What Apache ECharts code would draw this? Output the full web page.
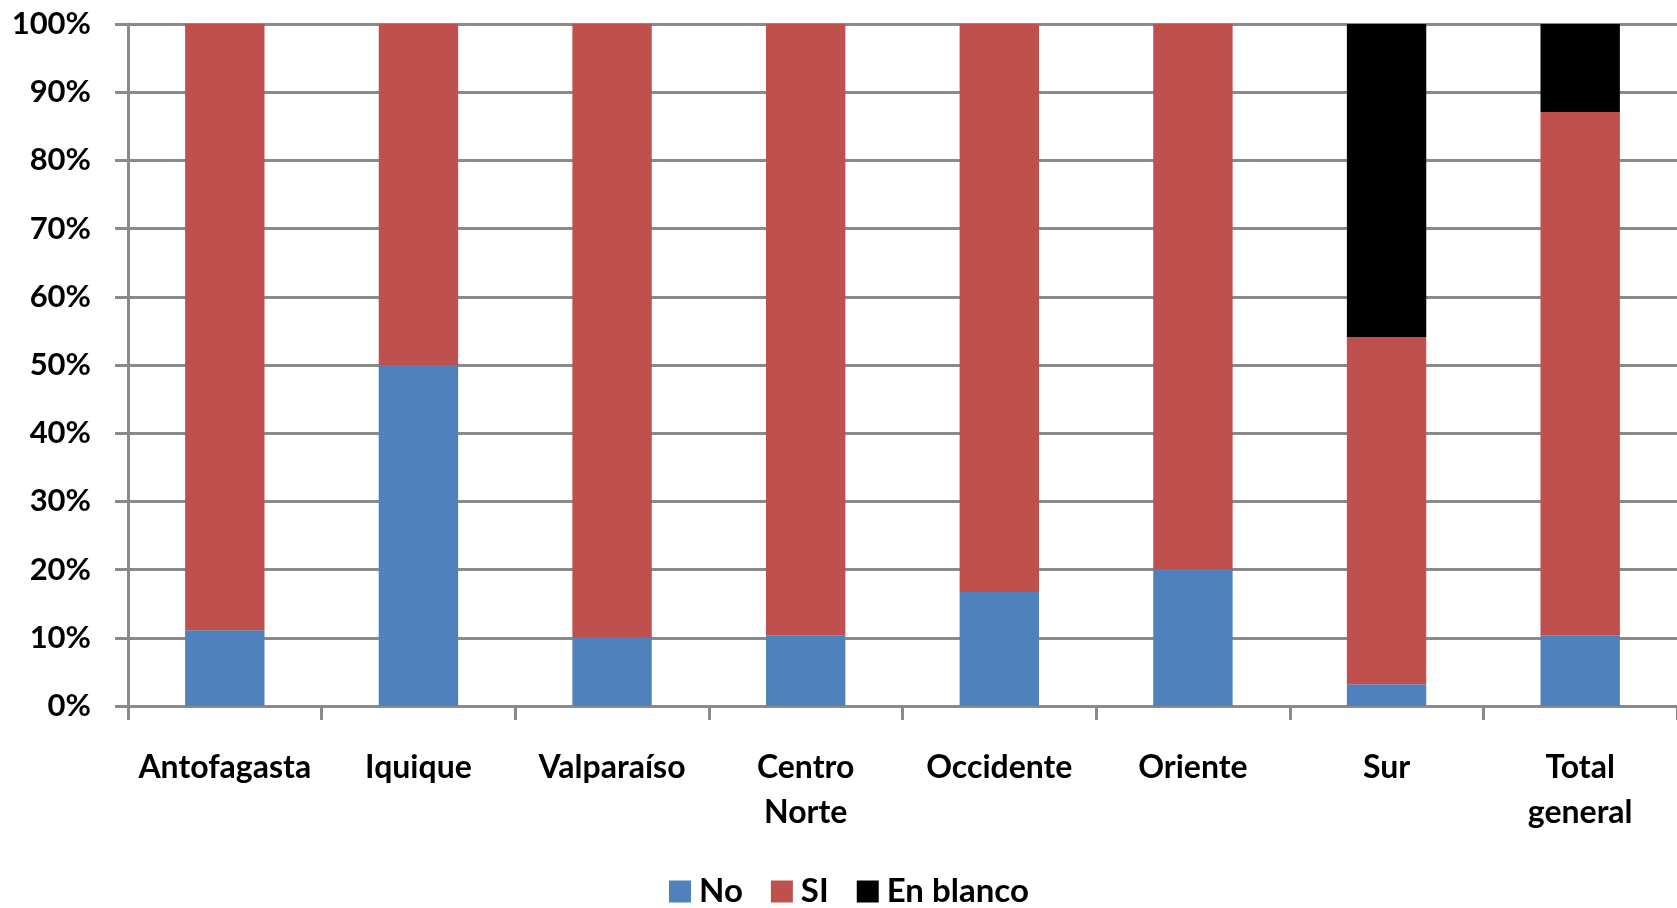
<!DOCTYPE html>
<html>
<head>
<meta charset="utf-8">
<script src="https://cdn.jsdelivr.net/npm/echarts@6/dist/echarts.min.js"></script>
<style>html,body{margin:0;padding:0;background:#fff}#c{width:1677px;height:908px}</style>
</head>
<body>
<div id="c"></div>
<script>
const categories = ['Antofagasta', 'Iquique', 'Valparaíso', 'Centro Norte', 'Occidente', 'Oriente', 'Sur', 'Total general'];
const noValues = [11.1, 50, 10, 10.3, 16.7, 20, 3.2, 10.3];
const siValues = [88.9, 50, 90, 89.7, 83.3, 80, 50.9, 76.8];
const blancoValues = [0, 0, 0, 0, 0, 0, 45.9, 12.9];
const yTicks = [0, 10, 20, 30, 40, 50, 60, 70, 80, 90, 100];

const FONT = 'Lato';
const chart = echarts.init(document.getElementById('c'));
const mk = (name, data, color) => ({
  name, type: 'bar', stack: 't', data, barWidth: '41%',
  itemStyle: { color }, emphasis: { disabled: true }
});
chart.setOption({
  animation: false,
  textStyle: { fontFamily: FONT },
  grid: { left: 128, right: 0, top: 24, bottom: 202, containLabel: false },
  legend: {
    left: 664, top: 870, itemWidth: 22, itemHeight: 22, itemGap: 28,
    icon: 'rect',
    textStyle: { fontFamily: FONT, fontSize: 33, fontWeight: 'bold', color: '#000', padding: [0, 0, 0, 3] },
    data: ['No', 'SI', 'En blanco']
  },
  xAxis: {
    type: 'category', data: categories,
    axisLine: { lineStyle: { color: '#8a8a8a', width: 3 } },
    axisTick: { show: true, interval: 0, length: 14, lineStyle: { color: '#8a8a8a', width: 3 } },
    axisLabel: {
      interval: 0,
      fontFamily: FONT, fontSize: 32, fontWeight: 'bold', color: '#000', margin: 39, lineHeight: 45,
      formatter: v => v.replace(' ', '\n')
    }
  },
  yAxis: {
    type: 'value', min: 0, max: 100, interval: 10,
    axisLine: { show: true, lineStyle: { color: '#8a8a8a', width: 3 } },
    axisTick: { show: true, length: 13, lineStyle: { color: '#8a8a8a', width: 3 } },
    splitLine: { lineStyle: { color: '#8a8a8a', width: 3 } },
    axisLabel: {
      fontFamily: FONT, fontSize: 31, fontWeight: 'bold', color: '#000', margin: 37,
      formatter: v => yTicks.includes(v) ? v + '%' : ''
    }
  },
  series: [
    mk('No', noValues, '#4F81BD'),
    mk('SI', siValues, '#C0504D'),
    mk('En blanco', blancoValues, '#000000')
  ]
});
</script>
</body>
</html>
